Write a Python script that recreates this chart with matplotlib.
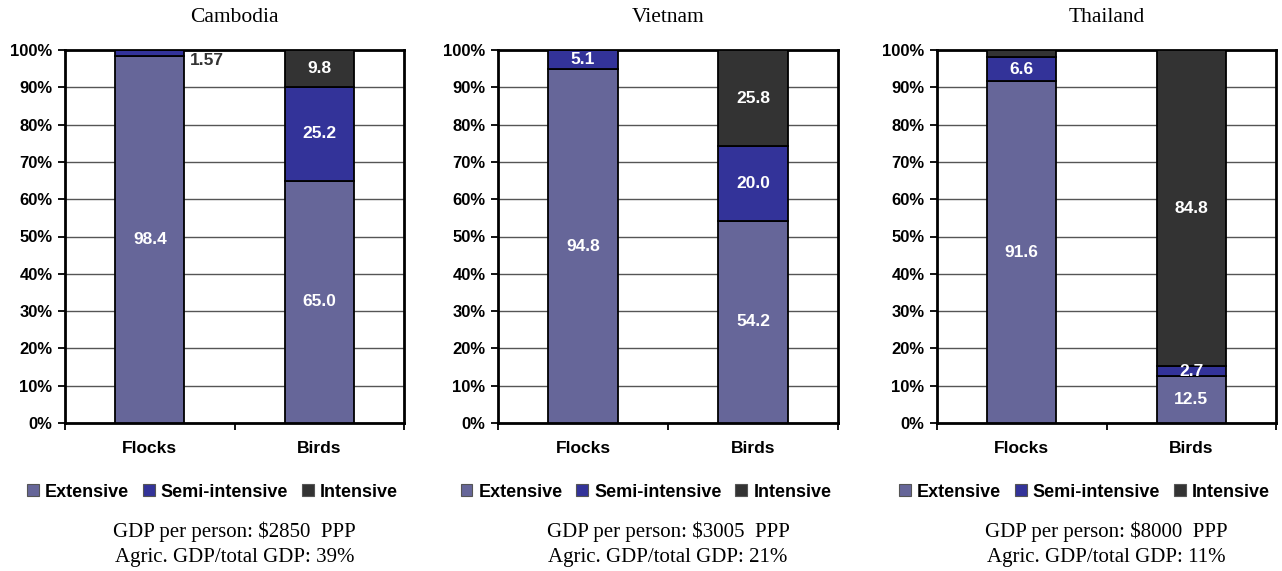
import matplotlib.pyplot as plt
import numpy as np
from matplotlib.patches import Patch

plt.rcParams["font.family"] = ["Liberation Sans", "DejaVu Sans"]

# data (percent of flocks / birds by production system)
countries = ["Cambodia", "Vietnam", "Thailand"]
categories = ["Flocks", "Birds"]
systems = ["Extensive", "Semi-intensive", "Intensive"]

extensive = {"Cambodia": [98.4, 65.0], "Vietnam": [94.8, 54.2], "Thailand": [91.6, 12.5]}
semi_intensive = {"Cambodia": [1.57, 25.2], "Vietnam": [5.1, 20.0], "Thailand": [6.6, 2.7]}
intensive = {"Cambodia": [0.03, 9.8], "Vietnam": [0.1, 25.8], "Thailand": [1.8, 84.8]}

# label text shown on each segment ("" = no label)
labels = {
    "Cambodia": [["98.4", "65.0"], ["1.57", "25.2"], ["", "9.8"]],
    "Vietnam": [["94.8", "54.2"], ["5.1", "20.0"], ["", "25.8"]],
    "Thailand": [["91.6", "12.5"], ["6.6", "2.7"], ["", "84.8"]],
}
gdp_per_person = {"Cambodia": "$2850", "Vietnam": "$3005", "Thailand": "$8000"}
agri_share = {"Cambodia": "39%", "Vietnam": "21%", "Thailand": "11%"}

colors = ["#666699", "#333399", "#333333"]

W, H = 1282, 571
fig = plt.figure(figsize=(W / 100, H / 100), dpi=100)

# axes boxes in pixels: left, right
boxes = {"Cambodia": (65, 404), "Vietnam": (498, 838), "Thailand": (937, 1276)}
top_px, bottom_px = 50, 423

x = np.arange(len(categories))
width = 0.41

for country in countries:
    l, r = boxes[country]
    ax = fig.add_axes([l / W, 1 - bottom_px / H, (r - l) / W, (bottom_px - top_px) / H])
    series = [extensive[country], semi_intensive[country], intensive[country]]

    bottom = np.zeros(len(categories))
    for i, vals in enumerate(series):
        vals = np.array(vals)
        ax.bar(x, vals, width, bottom=bottom, color=colors[i], edgecolor="black", linewidth=1.3, zorder=3)
        for j, v in enumerate(vals):
            txt = labels[country][i][j]
            if not txt:
                continue
            if txt == "1.57":
                ax.text(x[j] + width / 2 + 0.03, 97.2, txt, ha="left", va="center",
                        color="#333333", fontsize=12.5, fontweight="bold", zorder=4)
            else:
                ax.text(x[j], bottom[j] + v / 2, txt, ha="center", va="center",
                        color="white", fontsize=12.5, fontweight="bold", zorder=4)
        bottom += vals

    ax.set_xlim(-0.5, 1.5)
    ax.set_ylim(0, 100)
    ax.set_yticks(np.arange(0, 101, 10))
    ax.set_yticklabels([f"{t}%" for t in range(0, 101, 10)], fontsize=12, fontweight="bold")
    ax.yaxis.grid(True, color="#555555", linewidth=1.0, zorder=0)
    ax.set_axisbelow(True)

    ax.set_xticks([-0.5, 0.5, 1.5])
    ax.set_xticklabels([])
    ax.set_xticks(x, minor=True)
    ax.set_xticklabels(categories, minor=True, fontsize=12.5, fontweight="bold")
    ax.tick_params(axis="x", which="minor", length=0, pad=13)
    ax.tick_params(axis="x", which="major", direction="out", length=5, width=1.3)
    ax.tick_params(axis="y", direction="out", length=5, width=1.3, pad=4)

    for side in ["left", "bottom", "top", "right"]:
        ax.spines[side].set_linewidth(2.0)

    ax.text(0.5, 1.086, country, transform=ax.transAxes, ha="center", va="center",
            fontsize=15.5, family="Liberation Serif")

    handles = [Patch(facecolor=c, edgecolor="#555555", linewidth=0.8) for c in colors]
    ax.legend(handles, systems, ncol=3, loc="center", bbox_to_anchor=(0.435, -0.185),
              frameon=False, handlelength=0.65, handleheight=0.65, handletextpad=0.35,
              columnspacing=0.75, prop={"size": 13, "weight": "bold"})

    ax.text(0.5, -0.292, f"GDP per person: {gdp_per_person[country]}  PPP", transform=ax.transAxes,
            ha="center", va="center", fontsize=15, family="Liberation Serif")
    ax.text(0.5, -0.36, f"Agric. GDP/total GDP: {agri_share[country]}", transform=ax.transAxes,
            ha="center", va="center", fontsize=15, family="Liberation Serif")

plt.savefig("out.png", dpi=100)
